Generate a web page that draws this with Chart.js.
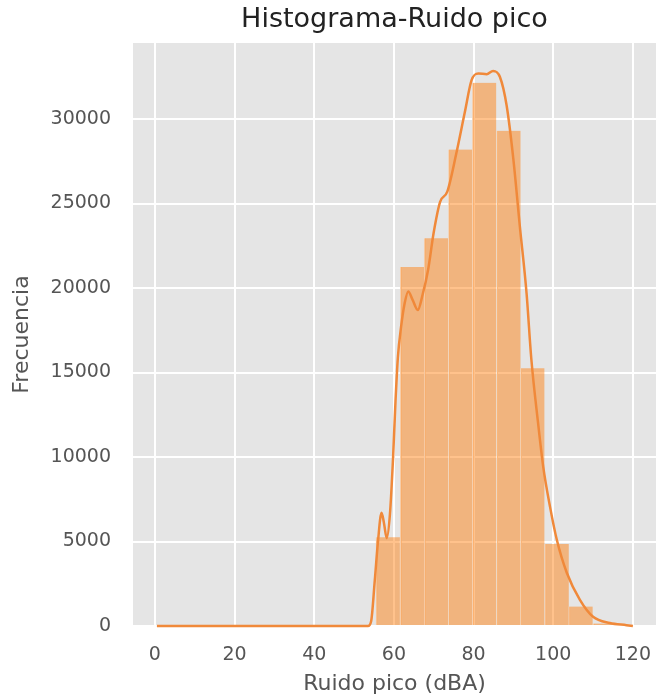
<!DOCTYPE html>
<html>
<head>
<meta charset="utf-8">
<script src="https://cdn.jsdelivr.net/npm/chart.js@4"></script>
<style>
  html, body { margin: 0; padding: 0; background: #ffffff; }
  #wrap { width: 658px; height: 698px; }
</style>
</head>
<body>
<div id="wrap"><canvas id="chart" width="658" height="698"></canvas></div>
<script>
// Histogram of peak noise (dBA): bin centres and counts
const binCenters = [58.5, 64.6, 70.6, 76.7, 82.7, 88.8, 94.8, 100.9, 106.9, 113.0];
const binCounts  = [5250, 21250, 22950, 28200, 32150, 29300, 15250, 4850, 1150, 150];

// Density curve, scaled to counts
const kdeX = [0.5, 53.5, 54.3, 55.2, 56.0, 56.9, 57.5, 58.2, 59.0, 59.8, 60.4, 61.0, 61.8, 62.7, 63.6, 64.7,
              66.0, 67.2, 68.6, 70.0, 71.6, 73.4, 75.7, 77.8, 79.5, 81.2, 83.3, 84.9, 86.6, 88.3,
              90.0, 91.6, 93.3, 94.5, 96.2, 97.5, 99.2, 100.9, 103.4, 106.7, 110.0, 114.2, 118.4, 120.0];
const kdeY = [0, 0, 300, 2700, 5000, 6700, 6100, 5200, 6600, 10000, 13300, 15900, 17700, 19100, 19800, 19300,
              18700, 19600, 21100, 23300, 25100, 25700, 28000, 30400, 32300, 32700, 32650, 32850, 32500, 30800,
              27600, 23700, 19700, 15800, 12000, 9400, 7050, 5100, 3150, 1550, 550, 180, 50, 0];

// Axis ticks
const xTicks = [0, 20, 40, 60, 80, 100, 120];
const yTicks = [0, 5000, 10000, 15000, 20000, 25000, 30000];

const FONT = "'DejaVu Sans', 'Liberation Sans', sans-serif";

const plotBackground = {
  id: 'plotBackground',
  beforeDraw(chart) {
    const { ctx, chartArea: a } = chart;
    ctx.save();
    ctx.fillStyle = '#e5e5e5';
    ctx.fillRect(a.left, a.top, a.right - a.left, a.bottom - a.top);
    ctx.restore();
  }
};

new Chart(document.getElementById('chart'), {
  data: {
    datasets: [
      {
        type: 'line',
        data: kdeX.map((x, i) => ({ x: x, y: kdeY[i] })),
        borderColor: '#f0893a',
        borderWidth: 2.5,
        pointRadius: 0,
        tension: 0.4,
        cubicInterpolationMode: 'monotone',
        fill: false,
        clip: { left: 0, top: 0, right: 0, bottom: 3 }
      },
      {
        type: 'bar',
        data: binCenters.map((x, i) => ({ x: x, y: binCounts[i] })),
        backgroundColor: 'rgba(255,127,14,0.48)',
        borderColor: '#f6d0ae',
        borderWidth: { left: 1, right: 0, top: 0, bottom: 0 },
        borderSkipped: false,
        barPercentage: 1.0,
        categoryPercentage: 1.0,
        grouped: false
      }
    ]
  },
  options: {
    responsive: false,
    animation: false,
    layout: { padding: { left: 0, right: 2, top: 0, bottom: 0 } },
    plugins: {
      legend: { display: false },
      tooltip: { enabled: false },
      title: {
        display: true,
        text: 'Histograma-Ruido pico',
        fullSize: false,
        color: '#222222',
        font: { family: FONT, size: 27, weight: 'normal' },
        padding: { top: 4, bottom: 6.6 }
      }
    },
    scales: {
      x: {
        type: 'linear',
        offset: false,
        min: -5.5,
        max: 125.8,
        afterBuildTicks: s => { s.ticks = xTicks.map(v => ({ value: v })); },
        afterFit: s => { s.height = 72; s.paddingLeft = 0; s.paddingRight = 0; },
        grid: { color: '#ffffff', lineWidth: 2, drawTicks: false, offset: false },
        border: { display: false },
        ticks: { padding: 18, color: '#555555', font: { family: FONT, size: 19 }, maxRotation: 0 },
        title: {
          display: true,
          text: 'Ruido pico (dBA)',
          color: '#555555',
          font: { family: FONT, size: 22 },
          padding: { top: 0, bottom: 1 }
        }
      },
      y: {
        type: 'linear',
        min: 0,
        max: 34500,
        afterBuildTicks: s => { s.ticks = yTicks.map(v => ({ value: v })); },
        afterFit: s => { s.width = 133; s.paddingTop = 0; s.paddingBottom = 0; },
        grid: { color: '#ffffff', lineWidth: 2, drawTicks: false },
        border: { display: false },
        ticks: {
          padding: 22,
          color: '#555555',
          font: { family: FONT, size: 19 },
          callback: v => String(v)
        },
        title: {
          display: true,
          text: 'Frecuencia',
          color: '#555555',
          font: { family: FONT, size: 22 },
          padding: { top: 9, bottom: 0 }
        }
      }
    }
  },
  plugins: [plotBackground]
});
</script>
</body>
</html>
